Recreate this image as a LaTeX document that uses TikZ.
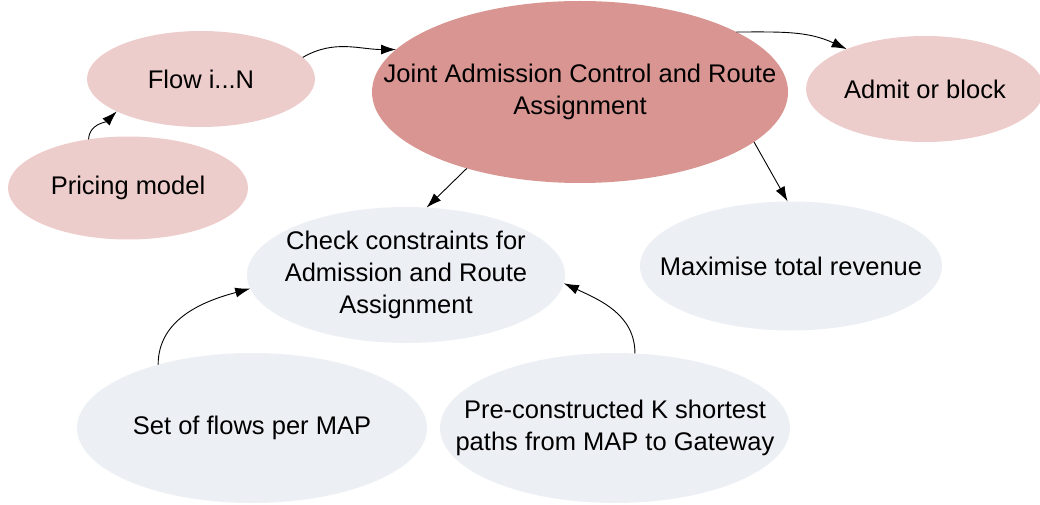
\documentclass[tikz,border=0pt]{standalone}
\usepackage{fontspec}
\setmainfont{Liberation Sans}
\usetikzlibrary{shapes.geometric,arrows.meta}
\definecolor{mainred}{RGB}{217,149,145}
\definecolor{lightpink}{RGB}{237,205,203}
\definecolor{lightgrey}{RGB}{236,239,244}
\tikzset{
  bubble/.style={ellipse, inner sep=0pt, outer sep=0pt},
  caption/.style={align=center, inner sep=0pt,
    font=\fontsize{25.5}{32}\selectfont},
  hot/.style={bubble, fill=mainred},
  warm/.style={bubble, fill=lightpink},
  cool/.style={bubble, fill=lightgrey},
  link/.style={line width=0.9pt, -{Latex[length=15pt,width=10pt]}}
}
\begin{document}
\begin{tikzpicture}[x=1pt,y=1pt]
\useasboundingbox (0,0) rectangle (1040,504);
% main decision step
\node[hot, minimum width=416pt, minimum height=182pt,
  label={[caption]center:Joint Admission Control and Route\\Assignment}] (joint) at (580,412) {};
% inputs and outcomes
\node[warm, minimum width=228pt, minimum height=96pt,
  label={[caption]center:Flow i...N}] (flow) at (201,425) {};
\node[warm, minimum width=240pt, minimum height=103pt,
  label={[caption]center:Pricing model}] (pricing) at (128,316) {};
\node[warm, minimum width=238pt, minimum height=106pt,
  label={[caption]center:Admit or block}] (admit) at (925,415) {};
\node[cool, minimum width=318pt, minimum height=136pt,
  label={[caption]center:Check constraints for\\Admission and Route\\Assignment}] (check) at (406,229) {};
\node[cool, minimum width=302pt, minimum height=129pt,
  label={[caption]center:Maximise total revenue}] (max) at (791,238) {};
\node[cool, minimum width=350pt, minimum height=150pt,
  label={[caption]center:Set of flows per MAP}] (set) at (252,76) {};
\node[cool, minimum width=350pt, minimum height=150pt,
  label={[caption]center:Pre-constructed K shortest\\paths from MAP to Gateway}] (pre) at (615,76) {};
% connectors
\draw[link] (pricing.129) to[out=88,in=225] (flow.201);
\draw[link] (flow.12) to[out=30,in=180] (joint.167);
\draw[link] (joint.21) to[out=0,in=155] (admit.153);
\draw[link] (joint.214) -- (check.73);
\draw[link] (joint.-16) -- (max.93);
\draw[link] (set.146) to[out=90,in=195] (check.185);
\draw[link] (pre.75) to[out=90,in=-25] (check.-3);
\end{tikzpicture}
\end{document}
